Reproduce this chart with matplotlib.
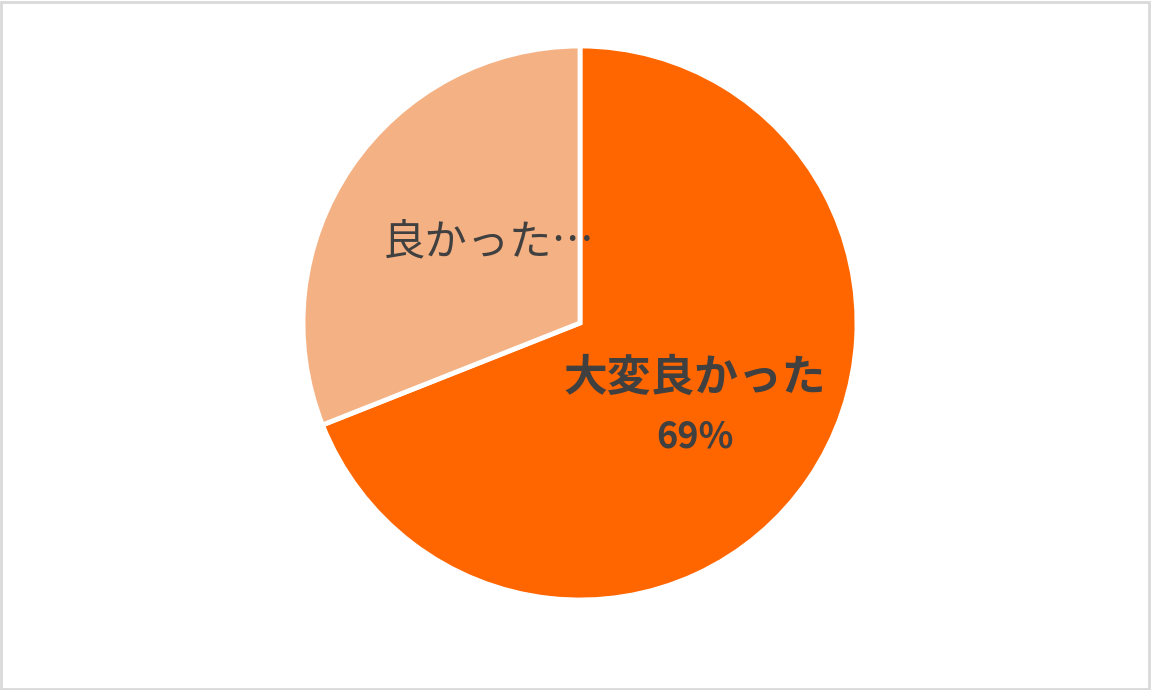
import matplotlib
matplotlib.use("Agg")
import matplotlib.pyplot as plt
from matplotlib.patches import Rectangle

plt.rcParams['font.family'] = ['Noto Sans CJK JP', 'DejaVu Sans']

# データ
labels = ['大変良かった', '良かった…']
values = [69, 31]
colors = ['#FF6600', '#F4B183']

W, H = 1151, 690
fig = plt.figure(figsize=(W / 100, H / 100), dpi=100)

# 円の中心 (580, 323) 半径 277 px
cx, cy, r = 580, 323, 277
ax = fig.add_axes([(cx - r) / W, (H - cy - r) / H, 2 * r / W, 2 * r / H])
wedges, _ = ax.pie(values, colors=colors, startangle=90, counterclock=False,
                   radius=1.0, wedgeprops=dict(edgecolor='white', linewidth=3.5))
ax.set_xlim(-1.0, 1.0)
ax.set_ylim(-1.0, 1.0)
ax.set_aspect('equal')
ax.axis('off')

txt = '#404040'
ax.text(0.415, -0.20, labels[0], ha='center', va='center', fontsize=31.5,
        fontweight='bold', color=txt)
ax.text(0.415, -0.41, '%d%%' % values[0], ha='center', va='center', fontsize=26,
        fontweight='bold', color=txt)
ax.text(-0.33, 0.29, labels[1], ha='center', va='center', fontsize=30.5,
        color=txt)

# 外枠
fig.patches.append(Rectangle((0.001, 0.002), 0.997, 0.995, transform=fig.transFigure,
                             fill=False, edgecolor='#D9D9D9', linewidth=2))

fig.savefig('out.png', dpi=100, facecolor='white')
